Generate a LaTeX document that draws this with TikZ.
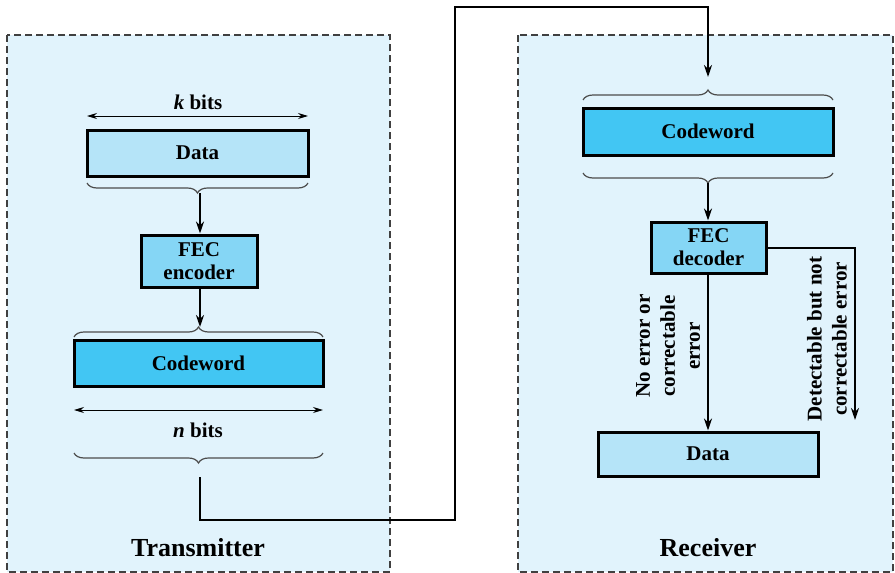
\documentclass[tikz,border=0pt]{standalone}
\usepackage{fontspec}
\setmainfont{Liberation Serif}
\usetikzlibrary{arrows.meta,decorations.pathreplacing,positioning}

\definecolor{panelbg}{HTML}{E1F3FC}
\definecolor{datafill}{HTML}{B5E4F8}
\definecolor{fecfill}{HTML}{85D6F5}
\definecolor{cwfill}{HTML}{42C6F3}

\tikzset{
	panel/.style={draw=black!75, fill=panelbg, line width=1.1pt, dash pattern=on 7pt off 4pt},
	block/.style={draw, line width=3pt, inner sep=0pt, align=center, font=\fontsize{21}{24}\selectfont\bfseries},
	flow/.style={line width=2.2pt, -{Stealth[length=12pt,width=8pt]}},
	span/.style={line width=0.9pt, {Stealth[length=10pt,width=6pt]}-{Stealth[length=10pt,width=6pt]}},
	grp/.style={draw=black!70, line width=1.2pt, decorate, decoration={brace, amplitude=10pt, aspect=0.5}},
	lbl/.style={font=\fontsize{21}{25}\selectfont\bfseries, align=center},
	title/.style={font=\fontsize{26}{30}\selectfont\bfseries}
}

\begin{document}
\begin{tikzpicture}[x=1pt, y=-1pt]
		
		\useasboundingbox (0,0) rectangle (895,573);
		
		% panels
		\draw[panel] (7,35) rectangle (390,572);
		\draw[panel] (518,35) rectangle (893,572);
		
		\node[title] (tx) at (198,548) {Transmitter};
		\node[title] (rx) at (708,548) {Receiver};
		
		% transmitter side
		\node[lbl] (kbits) at (198,102) {\textit{k} bits};
		
		\node[block, fill=datafill, minimum width=221pt, minimum height=46pt] (data1) at (197.5,153) {Data};
		
		\node[block, fill=fecfill, minimum width=116pt, minimum height=52pt, font=\fontsize{21}{23}\selectfont\bfseries] (enc) at (199,261) {FEC\\encoder};
		
		\node[block, fill=cwfill, minimum width=249pt, minimum height=46pt] (cw1) at (198.5,363) {Codeword};
		
		\node[lbl] (nbits) at (198,430) {\textit{n} bits};
		
		\coordinate (kL) at (87,116);
		\coordinate (kR) at (308,116);
		\coordinate (nL) at (74,410);
		\coordinate (nR) at (323,410);
		
		\draw[span] (kL) -- (kR);
		\draw[span] (nL) -- (nR);
		
		\draw[grp] (308,183) -- (87,183);
		\draw[grp] (74,337) -- (323,337);
		\draw[grp] (323,453) -- (74,453);
		
		\coordinate (b1) at (200,193);
		\coordinate (b2) at (200,327);
		\coordinate (b3) at (200,477);
		
		\draw[flow] (b1) -- (enc.north -| b1);
		\draw[flow] (enc.south -| b2) -- (b2);
		
		% channel
		\coordinate (c1) at (200,520);
		\coordinate (c2) at (455,520);
		\coordinate (c3) at (455,7);
		\coordinate (c4) at (708,7);
		\coordinate (b4) at (708,77);
		
		\draw[flow, line width=2.6pt] (b3) -- (c1) -- (c2) -- (c3) -- (c4) -- (b4);
		
		% receiver side
		\node[block, fill=cwfill, minimum width=250pt, minimum height=47pt] (cw2) at (708,131.5) {Codeword};
		
		\node[block, fill=fecfill, minimum width=115pt, minimum height=51pt, font=\fontsize{21}{23}\selectfont\bfseries] (dec) at (708.5,247.5) {FEC\\decoder};
		
		\node[block, fill=datafill, minimum width=220pt, minimum height=44pt] (data2) at (708,454) {Data};
		
		\draw[grp] (583,100) -- (833,100);
		\draw[grp] (833,173) -- (583,173);
		
		\coordinate (b5) at (708,183);
		\coordinate (drop) at (855,420);
		
		\draw[flow] (b5) -- (dec.north -| b5);
		\draw[flow] (dec.south -| b5) -- (data2.north -| b5);
		\draw[flow] (dec.east |- 0,248) -| (drop);
		
		\node[lbl, rotate=90] (okmsg) at (668,346) {No error or\\correctable\\error};
		\node[lbl, rotate=90] (errmsg) at (827,339) {Detectable but not\\correctable error};
		
	\end{tikzpicture}
\end{document}
